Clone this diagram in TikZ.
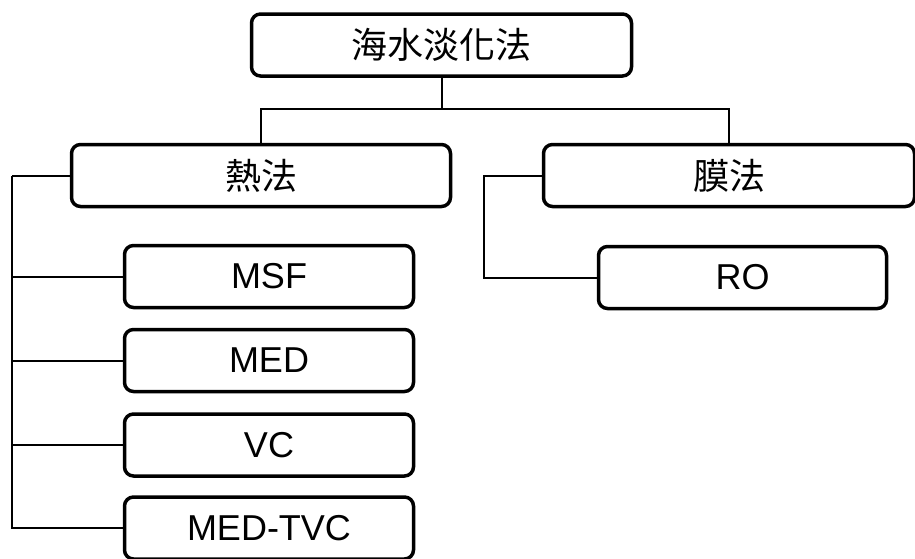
\documentclass[tikz,border=0pt]{standalone}
\usepackage{fontspec}
\setmainfont{Liberation Sans}
\newfontfamily\cjk{Noto Sans CJK TC}
\begin{document}
\begin{tikzpicture}[x=1pt,y=-1pt,
  box/.style={draw=black, line width=3.5pt, rounded corners=9pt, fill=white,
    inner sep=0pt, minimum height=62pt, font=\fontsize{36}{40}\selectfont},
  link/.style={draw=black, line width=2pt}]
\clip (0,0) rectangle (915,558);
\useasboundingbox (0,0) rectangle (915,558);
\node[box, minimum width=380pt] (root) at (441.5,45) {\cjk 海水淡化法};
\node[box, minimum width=379pt] (heat) at (261,175.5) {\cjk 熱法};
\node[box, minimum width=371pt] (mem) at (729,175.5) {\cjk 膜法};
\node[box, minimum width=289pt] (msf) at (269,276.5) {MSF};
\node[box, minimum width=289pt] (med) at (269,360.5) {MED};
\node[box, minimum width=289pt] (vc) at (269,445) {VC};
\node[box, minimum width=289pt] (tvc) at (269,528) {MED-TVC};
\node[box, minimum width=288pt] (ro) at (742.5,277.5) {RO};
\coordinate (hub) at (441.5,109);
\coordinate (hl) at (12,175.5);
\coordinate (ml) at (484,175.5);
\draw[link] (root.south) -- (hub);
\draw[link] (hub) -| (heat.north);
\draw[link] (hub) -| (mem.north);
\draw[link] (heat.west) -- (hl);
\draw[link] (hl) |- (msf.west);
\draw[link] (hl) |- (med.west);
\draw[link] (hl) |- (vc.west);
\draw[link] (hl) |- (tvc.west);
\draw[link] (mem.west) -- (ml) |- (ro.west);
\end{tikzpicture}
\end{document}
